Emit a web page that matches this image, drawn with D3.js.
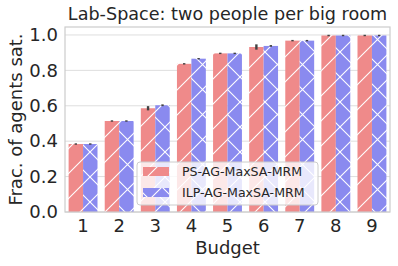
<!DOCTYPE html>
<html>
<head>
<meta charset="utf-8">
<script src="https://cdn.jsdelivr.net/npm/d3@7"></script>
<style>
  body { margin: 0; background: #fff; }
  text { font-family: "DejaVu Sans", sans-serif; fill: #262626; }
</style>
</head>
<body>
<div id="chart"></div>
<script>
// data
var budgets = ["1", "2", "3", "4", "5", "6", "7", "8", "9"];
var seriesNames = ["PS-AG-MaxSA-MRM", "ILP-AG-MaxSA-MRM"];
var psValues = [0.384, 0.514, 0.586, 0.837, 0.896, 0.932, 0.968, 0.997, 0.997];
var ilpValues = [0.384, 0.514, 0.603, 0.866, 0.896, 0.938, 0.968, 0.997, 0.997];
var psErr = [0.004, 0.004, 0.012, 0.004, 0.004, 0.015, 0.004, 0.004, 0.004];
var ilpErr = [0.004, 0.004, 0.005, 0.004, 0.004, 0.005, 0.004, 0.004, 0.004];
var yTicks = [0.0, 0.2, 0.4, 0.6, 0.8, 1.0];

var svgWidth = 398;
var svgHeight = 266;
var margin = { top: 27, right: 8, bottom: 54, left: 65 };
var width = svgWidth - margin.left - margin.right;
var height = svgHeight - margin.top - margin.bottom;

var colors = ["#ef8a8a", "#8a8aef"];

var svg = d3.select("#chart")
    .append("svg")
    .attr("width", svgWidth)
    .attr("height", svgHeight);

// hatch patterns, white lines like matplotlib hatches
var defs = svg.append("defs");
var slash = defs.append("pattern")
    .attr("id", "hatch-slash")
    .attr("patternUnits", "userSpaceOnUse")
    .attr("width", 25).attr("height", 25);
slash.append("rect").attr("width", 25).attr("height", 25).attr("fill", colors[0]);
slash.append("path").attr("d", "M-2,27 L27,-2 M-27,27 L2,-2 M23,27 L52,-2")
    .attr("stroke", "#fff").attr("stroke-width", 1.1);

var cross = defs.append("pattern")
    .attr("id", "hatch-cross")
    .attr("patternUnits", "userSpaceOnUse")
    .attr("width", 25).attr("height", 25);
cross.append("rect").attr("width", 25).attr("height", 25).attr("fill", colors[1]);
cross.append("path").attr("d", "M-2,27 L27,-2 M-2,-2 L27,27")
    .attr("stroke", "#fff").attr("stroke-width", 1.1);

var fills = ["url(#hatch-slash)", "url(#hatch-cross)"];

var chartGroup = svg.append("g")
    .attr("transform", `translate(${margin.left}, ${margin.top})`);

var xScale = d3.scaleBand()
    .domain(budgets)
    .range([0, width])
    .padding(0);

var hueScale = d3.scaleBand()
    .domain([0, 1])
    .range([xScale.bandwidth() * 0.1, xScale.bandwidth() * 0.9]);

var yScale = d3.scaleLinear()
    .domain([0, 1.045])
    .range([height, 0]);

// grid
chartGroup.append("g")
    .selectAll("line")
    .data(yTicks)
    .enter()
    .append("line")
    .attr("x1", 0)
    .attr("x2", width)
    .attr("y1", d => yScale(d))
    .attr("y2", d => yScale(d))
    .attr("stroke", "#dedede")
    .attr("stroke-width", 1);

// bars
var series = [psValues, ilpValues];
var errs = [psErr, ilpErr];
series.forEach(function(vals, s) {
    var g = chartGroup.append("g");
    g.selectAll("rect")
        .data(vals)
        .enter()
        .append("rect")
        .attr("x", (d, i) => xScale(budgets[i]) + hueScale(s))
        .attr("y", d => yScale(d))
        .attr("width", hueScale.bandwidth())
        .attr("height", d => height - yScale(d))
        .attr("fill", fills[s]);
    g.selectAll("line")
        .data(vals)
        .enter()
        .append("line")
        .attr("x1", (d, i) => xScale(budgets[i]) + hueScale(s) + hueScale.bandwidth() / 2)
        .attr("x2", (d, i) => xScale(budgets[i]) + hueScale(s) + hueScale.bandwidth() / 2)
        .attr("y1", (d, i) => yScale(d - errs[s][i]))
        .attr("y2", (d, i) => yScale(d + errs[s][i]))
        .attr("stroke", "#424242")
        .attr("stroke-width", 2.4);
});

// frame
chartGroup.append("rect")
    .attr("x", 0).attr("y", 0)
    .attr("width", width).attr("height", height)
    .attr("fill", "none")
    .attr("stroke", "#cccccc")
    .attr("stroke-width", 1.2);

// axes
var bottomAxis = d3.axisBottom(xScale).tickSize(0).tickPadding(7);
var xAxis = chartGroup.append("g")
    .attr("transform", `translate(0, ${height})`)
    .call(bottomAxis);
xAxis.select(".domain").remove();
xAxis.selectAll("text")
    .attr("font-size", "18px")
    .attr("fill", "#262626")
    .attr("font-family", "DejaVu Sans");

var leftAxis = d3.axisLeft(yScale).tickValues(yTicks).tickFormat(d3.format(".1f")).tickSize(0).tickPadding(7);
var yAxis = chartGroup.append("g").call(leftAxis);
yAxis.select(".domain").remove();
yAxis.selectAll("text")
    .attr("font-size", "18px")
    .attr("fill", "#262626")
    .attr("font-family", "DejaVu Sans");

// labels
svg.append("text")
    .attr("x", margin.left + width / 2)
    .attr("y", 20)
    .attr("text-anchor", "middle")
    .attr("font-size", "17.6px")
    .text("Lab-Space: two people per big room");

svg.append("text")
    .attr("x", margin.left + width / 2)
    .attr("y", 254)
    .attr("text-anchor", "middle")
    .attr("font-size", "18px")
    .text("Budget");

svg.append("text")
    .attr("transform", `translate(22, ${margin.top + height / 2}) rotate(-90)`)
    .attr("text-anchor", "middle")
    .attr("font-size", "18px")
    .text("Frac. of agents sat.");

// legend
var legend = svg.append("g").attr("transform", "translate(137, 162)");
legend.append("rect")
    .attr("width", 181).attr("height", 43)
    .attr("rx", 3)
    .attr("fill", "#fff").attr("fill-opacity", 0.8)
    .attr("stroke", "#cccccc").attr("stroke-width", 1);
seriesNames.forEach(function(name, s) {
    legend.append("rect")
        .attr("x", 6).attr("y", 5 + s * 21)
        .attr("width", 26).attr("height", 9)
        .attr("fill", fills[s]);
    legend.append("text")
        .attr("x", 45).attr("y", 14 + s * 21)
        .attr("font-size", "12.6px")
        .text(name);
});
</script>
</body>
</html>
